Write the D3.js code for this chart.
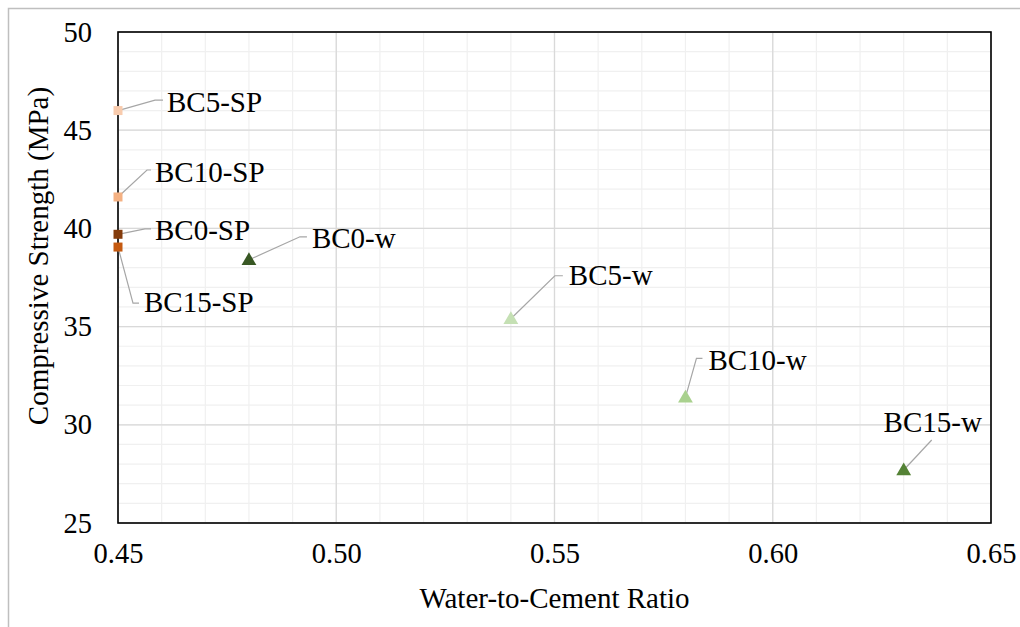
<!DOCTYPE html>
<html>
<head>
<meta charset="utf-8">
<script src="https://cdn.jsdelivr.net/npm/d3@7"></script>
<style>
  html, body { margin: 0; padding: 0; background: #fff; }
  svg { display: block; }
</style>
</head>
<body>
<svg id="chart" width="1020" height="627"></svg>
<script>
// Mix names, water-to-cement ratio and 28-day compressive strength
const mixes    = ["BC0-SP", "BC5-SP", "BC10-SP", "BC15-SP", "BC0-w", "BC5-w", "BC10-w", "BC15-w"];
const wcRatio  = [0.45, 0.45, 0.45, 0.45, 0.48, 0.54, 0.58, 0.63];
const strength = [39.7, 46.0, 41.6, 39.05, 38.4, 35.4, 31.4, 27.7];
const markerShape = ["square", "square", "square", "square", "triangle", "triangle", "triangle", "triangle"];
const markerColor = ["#843C0C", "#F8CBAD", "#F4B183", "#C55A11", "#385723", "#C5E0B4", "#A9D18E", "#548235"];

const xTicks = [0.45, 0.50, 0.55, 0.60, 0.65];
const yTicks = [25, 30, 35, 40, 45, 50];

// Data label placement relative to each marker (pixels):
// text offset (dx, dy, anchor), leader elbow (ex, ey) and leader end x (hx)
const labelLayout = [
  { dx: 37, dy: -4.5, anchor: "start",  ex: 27, ey: -5.5, hx: 33 },
  { dx: 49, dy: -9,   anchor: "start",  ex: 37, ey: -10.5, hx: 45 },
  { dx: 37, dy: -25,  anchor: "start",  ex: 29, ey: -27, hx: 33 },
  { dx: 26, dy: 55,   anchor: "start",  ex: 15, ey: 56,  hx: 21 },
  { dx: 63, dy: -22,  anchor: "start",  ex: 51, ey: -23, hx: 58 },
  { dx: 58, dy: -44,  anchor: "start",  ex: 44, ey: -43, hx: 52 },
  { dx: 23, dy: -37,  anchor: "start",  ex: 11, ey: -39, hx: 17 },
  { dx: 29, dy: -48,  anchor: "middle", ex: 28, ey: -30, hx: 28 }
];

const FONT = "'Liberation Serif', 'Times New Roman', serif";
const svg = d3.select("#chart");
const W = 1020, H = 627;
const plot = { left: 118, right: 991, top: 32, bottom: 523 };

// outer chart frame
svg.append("rect")
  .attr("x", 8.5).attr("y", 8.5)
  .attr("width", W + 20).attr("height", H + 20)
  .attr("fill", "#fff").attr("stroke", "#BFBFBF").attr("stroke-width", 1.5);

const x = d3.scaleLinear().domain([0.45, 0.65]).range([plot.left, plot.right]);
const y = d3.scaleLinear().domain([25, 50]).range([plot.bottom, plot.top]);

// minor gridlines
const xMinor = d3.range(0, 21).map(i => 0.45 + i * 0.01);
const yMinor = d3.range(25, 51, 1);
const grid = svg.append("g");
grid.selectAll(".xm").data(xMinor).join("line")
  .attr("x1", d => x(d)).attr("x2", d => x(d))
  .attr("y1", plot.top).attr("y2", plot.bottom)
  .attr("stroke", "#F0F0F0").attr("stroke-width", 1.2);
grid.selectAll(".ym").data(yMinor).join("line")
  .attr("x1", plot.left).attr("x2", plot.right)
  .attr("y1", d => y(d)).attr("y2", d => y(d))
  .attr("stroke", "#F0F0F0").attr("stroke-width", 1.2);

// major gridlines
grid.selectAll(".xM").data(xTicks).join("line")
  .attr("x1", d => x(d)).attr("x2", d => x(d))
  .attr("y1", plot.top).attr("y2", plot.bottom)
  .attr("stroke", "#D9D9D9").attr("stroke-width", 1.3);
grid.selectAll(".yM").data(yTicks).join("line")
  .attr("x1", plot.left).attr("x2", plot.right)
  .attr("y1", d => y(d)).attr("y2", d => y(d))
  .attr("stroke", "#D9D9D9").attr("stroke-width", 1.3);

// plot border
svg.append("rect")
  .attr("x", plot.left).attr("y", plot.top)
  .attr("width", plot.right - plot.left).attr("height", plot.bottom - plot.top)
  .attr("fill", "none").attr("stroke", "#000").attr("stroke-width", 1.6);

// axes (tick labels only)
const xAxis = d3.axisBottom(x).tickValues(xTicks).tickFormat(d3.format(".2f")).tickSize(0).tickPadding(20);
const gx = svg.append("g").attr("transform", `translate(0,${plot.bottom})`).call(xAxis);
gx.select(".domain").remove();
gx.selectAll("text").style("font-family", FONT).style("font-size", "28.5px").attr("fill", "#000");

const yAxis = d3.axisLeft(y).tickValues(yTicks).tickFormat(d3.format("d")).tickSize(0).tickPadding(26);
const gy = svg.append("g").attr("transform", `translate(${plot.left},0)`).call(yAxis);
gy.select(".domain").remove();
gy.selectAll("text").style("font-family", FONT).style("font-size", "28.5px").attr("fill", "#000");

// axis titles
svg.append("text")
  .attr("x", (plot.left + plot.right) / 2).attr("y", 598)
  .attr("text-anchor", "middle").attr("dominant-baseline", "central")
  .style("font-family", FONT).style("font-size", "29px")
  .text("Water-to-Cement Ratio");
svg.append("text")
  .attr("transform", `translate(38,256) rotate(-90)`)
  .attr("text-anchor", "middle").attr("dominant-baseline", "central")
  .style("font-family", FONT).style("font-size", "29px")
  .text("Compressive Strength (MPa)");

// point records
const pts = mixes.map((m, i) => ({
  name: m, px: x(wcRatio[i]), py: y(strength[i]),
  shape: markerShape[i], color: markerColor[i], lay: labelLayout[i]
}));

// leader lines
svg.append("g").selectAll("polyline").data(pts).join("polyline")
  .attr("points", d => [
    [d.px, d.py],
    [d.px + d.lay.ex, d.py + d.lay.ey],
    [d.px + d.lay.hx, d.py + d.lay.ey]
  ].map(p => p.join(",")).join(" "))
  .attr("fill", "none").attr("stroke", "#A6A6A6").attr("stroke-width", 1.2);

// markers
const sq = d3.symbol().type(d3.symbolSquare).size(81);
const tri = d3.symbol().type(d3.symbolTriangle).size(95);
svg.append("g").selectAll("path").data(pts).join("path")
  .attr("transform", d => `translate(${d.px},${d.py + (d.shape === "triangle" ? 1 : 0)})`)
  .attr("d", d => d.shape === "square" ? sq() : tri())
  .attr("fill", d => d.color);

// data labels
svg.append("g").selectAll("text").data(pts).join("text")
  .attr("x", d => d.px + d.lay.dx)
  .attr("y", d => d.py + d.lay.dy)
  .attr("text-anchor", d => d.lay.anchor)
  .attr("dominant-baseline", "central")
  .style("font-family", FONT).style("font-size", "29px")
  .attr("fill", "#000")
  .text(d => d.name);
</script>
</body>
</html>
